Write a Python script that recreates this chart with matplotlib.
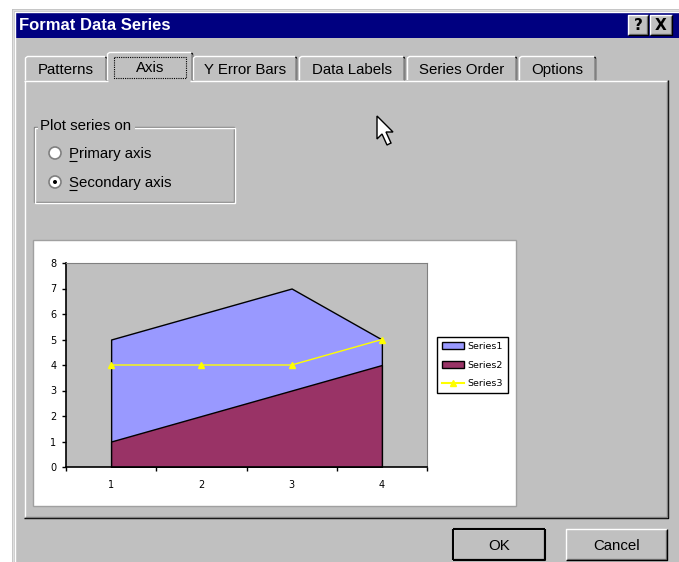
import matplotlib.pyplot as plt
from matplotlib.patches import Rectangle, Circle, Polygon, Patch
from matplotlib.lines import Line2D

# chart data
categories = [1, 2, 3, 4]
series1 = [5, 6, 7, 5]
series2 = [1, 2, 3, 4]
series3 = [4, 4, 4, 5]
yticks = [0, 1, 2, 3, 4, 5, 6, 7, 8]
tab_names = ['Patterns', 'Axis', 'Y Error Bars', 'Data Labels', 'Series Order', 'Options']
tab_edges = [24, 108, 192, 298, 406, 518, 597]

GRAY = '#c0c0c0'
DARK = '#808080'
W, H = 679, 562
FS = 10.8

fig = plt.figure(figsize=(W / 100, H / 100), dpi=100)
bg = fig.add_axes([0, 0, 1, 1])
bg.set_xlim(0, W)
bg.set_ylim(H, 0)
bg.axis('off')


def line(x, y, c, lw=1.0, **kw):
    bg.plot(x, y, color=c, lw=lw, solid_capstyle='butt', **kw)


def button(x0, y0, x1, y1, text, default=False):
    bg.add_patch(Rectangle((x0, y0), x1 - x0, y1 - y0, fc=GRAY, ec='none'))
    line([x0, x0, x1], [y1, y0, y0], 'white')
    line([x0 + 1, x1 - 1, x1 - 1], [y1 - 1, y1 - 1, y0 + 1], DARK)
    line([x0, x1, x1], [y1, y1, y0], 'black', lw=1.5 if default else 1.0)
    if default:
        line([x0, x0], [y0, y1], 'black', lw=1.5)
        line([x0, x1], [y0, y0], 'black', lw=1.5)
    bg.text((x0 + x1) / 2, (y0 + y1) / 2 + 1, text, ha='center', va='center',
            fontsize=FS, family='Liberation Sans')


# white surround and dialog body
bg.add_patch(Rectangle((0, 0), W, H, fc='white', ec='none'))
bg.add_patch(Rectangle((12, 9), W - 12, H - 9, fc=GRAY, ec='none'))
line([12.5, 12.5, W], [H, 9.5, 9.5], '#dfdfdf')
line([14.5, 14.5, W], [H, 11.5, 11.5], 'white')

# title bar
bg.add_patch(Rectangle((15, 13), W - 15, 25, fc='#000080', ec='none'))
bg.text(19, 25.5, 'Format Data Series', color='white', fontsize=12, fontweight='bold',
        va='center', ha='left', family='Liberation Sans')
button(628, 15, 648, 35, '')
bg.text(638, 25.5, '?', ha='center', va='center', fontsize=11, fontweight='bold')
button(650, 15, 672, 35, '')
bg.text(661, 25.5, 'X', ha='center', va='center', fontsize=11, fontweight='bold')

# tab panel
bg.add_patch(Rectangle((24, 80), 643, 438, fc=GRAY, ec='none'))
line([24.5, 24.5], [80, 518], 'white')
line([24, 108], [80.5, 80.5], 'white')
line([190, 667], [80.5, 80.5], 'white')
line([24, 667.5, 667.5], [518, 518, 80], 'black')
line([25, 666.5, 666.5], [517, 517, 81], DARK)

# tabs
for i, name in enumerate(tab_names):
    x0, x1 = tab_edges[i] + 1, tab_edges[i + 1] - 1
    sel = name == 'Axis'
    top = 52 if sel else 56
    if sel:
        x0, x1 = x0 - 2, x1 + 2
    line([x0 + 0.5, x0 + 0.5, x0 + 2.5, x1 - 2], [80, top + 2, top + 0.5, top + 0.5], 'white')
    line([x1 - 1.5, x1 - 0.5, x1 - 0.5], [top + 1, top + 2, 80], 'black')
    line([x1 - 1.5, x1 - 1.5], [top + 2, 80], DARK)
    bg.text((x0 + x1) / 2, top + (16 if sel else 14), name, ha='center', va='center',
            fontsize=FS, family='Liberation Sans')
    if sel:
        bg.add_patch(Rectangle((x0 + 7, top + 5), x1 - x0 - 14, 21, fc='none', ec='black',
                               lw=0.8, ls=(0, (1, 1))))

# group box
bg.add_patch(Rectangle((33.5, 126.5), 200, 75, fc='none', ec=DARK, lw=1))
bg.add_patch(Rectangle((34.5, 127.5), 200, 75, fc='none', ec='white', lw=1))
bg.add_patch(Rectangle((38, 119), 97, 14, fc=GRAY, ec='none'))
bg.text(40, 126.5, 'Plot series on', ha='left', va='center', fontsize=FS,
        family='Liberation Sans')
for yy, label, on in [(153, 'Primary axis', False), (182, 'Secondary axis', True)]:
    bg.add_patch(Circle((55, yy), 6, fc='white', ec=DARK, lw=1.2))
    if on:
        bg.add_patch(Circle((55, yy), 2, fc='black', ec='none'))
    bg.text(69, yy + 1, label, ha='left', va='center', fontsize=FS, family='Liberation Sans')
    line([69, 77], [yy + 7.5, yy + 7.5], 'black', lw=0.8)

# mouse cursor
cur = [(377, 116), (377, 139), (382, 134), (387, 145), (391, 143), (386, 132), (393, 132)]
bg.add_patch(Polygon(cur, closed=True, fc='white', ec='black', lw=1))

# chart area
bg.add_patch(Rectangle((33, 240), 483, 266, fc='white', ec='#a0a0a0', lw=1))

# OK / Cancel
button(453, 529, 545, 560, 'OK', default=True)
button(566, 529, 667, 560, 'Cancel')

# plot area
ax = fig.add_axes([66 / W, 1 - 467 / H, 361 / W, 204 / H])
ax.set_facecolor(GRAY)
ax.fill_between(categories, 0, series1, facecolor='#9999ff', edgecolor='black', lw=1)
ax.fill_between(categories, 0, series2, facecolor='#993366', edgecolor='black', lw=1)
ax.plot(categories, series3, color='#ffff00', lw=1, marker='^', ms=5)
ax.set_xlim(0.5, 4.5)
ax.set_ylim(0, 8)
ax.set_yticks(yticks)
ax.set_xticks(categories)
ax.set_xticks([0.5, 1.5, 2.5, 3.5, 4.5], minor=True)
ax.tick_params(axis='x', which='major', length=0, pad=9, labelsize=7)
ax.tick_params(axis='x', which='minor', length=3, direction='out', width=1)
ax.tick_params(axis='y', length=3, direction='out', width=1, pad=4, labelsize=7)
for s in ['top', 'right']:
    ax.spines[s].set_color(DARK)
for s in ['left', 'bottom']:
    ax.spines[s].set_color('black')
    ax.spines[s].set_linewidth(1.2)

handles = [Patch(fc='#9999ff', ec='black'), Patch(fc='#993366', ec='black'),
           Line2D([], [], color='#ffff00', marker='^', ms=5)]
leg = ax.legend(handles, ['Series1', 'Series2', 'Series3'], loc='center left',
                bbox_to_anchor=(1.028, 0.5), fontsize=6.8, fancybox=False, framealpha=1,
                edgecolor='black', borderpad=0.5, handlelength=2.4, handleheight=0.7,
                labelspacing=1.0, handletextpad=0.3, borderaxespad=0)
leg.get_frame().set_linewidth(1)

fig.savefig('out.png', dpi=100)
